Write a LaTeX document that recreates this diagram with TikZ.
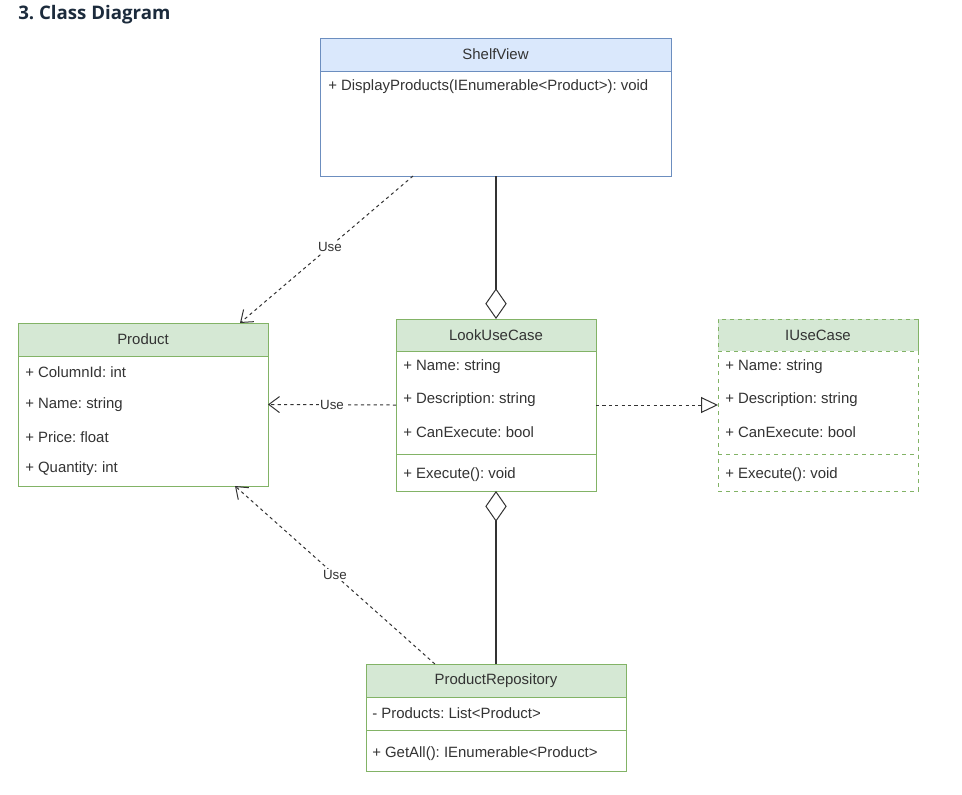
\documentclass[tikz,border=0pt]{standalone}
\usepackage{fontspec}
\setmainfont{Liberation Sans}
\newfontfamily\titlefont{Open Sans}
\usetikzlibrary{arrows.meta,calc}
\frenchspacing
\definecolor{gfill}{HTML}{D5E8D4}
\definecolor{gline}{HTML}{82B366}
\definecolor{bfill}{HTML}{DAE8FC}
\definecolor{bline}{HTML}{6C8EBF}
\definecolor{txt}{HTML}{333333}
\definecolor{ttl}{HTML}{1C2B3C}
\tikzset{
  box/.style={draw, line width=0.75pt, inner sep=0pt, outer sep=0pt, anchor=north west, fill=white},
  gbox/.style={box, draw=gline},
  bbox/.style={box, draw=bline},
  ghead/.style={gbox, fill=gfill, minimum height=24.75pt},
  bhead/.style={bbox, fill=bfill, minimum height=24.75pt},
  htext/.style={font=\fontsize{11.2}{13}\selectfont, text=txt, inner sep=0pt},
  row/.style={font=\fontsize{11.2}{13}\selectfont, text=txt, anchor=west, inner sep=0pt},
  dep/.style={draw=txt, line width=0.75pt, dash pattern=on 2.4pt off 2.4pt},
  usearrow/.style={dep, -{Straight Barb[length=8pt,width=12pt,line width=0.75pt]}},
  real/.style={dep, -{Triangle[open,length=12.75pt,width=12pt,line width=0.75pt,fill=white]}},
  agg/.style={draw=txt, line width=1.5pt, {Diamond[open,length=23pt,width=16pt,line width=0.75pt,fill=white]}-},
  lbl/.style={font=\fontsize{10}{12}\selectfont, text=txt, fill=white, inner sep=1pt}
}
\begin{document}
\begin{tikzpicture}[x=0.75pt,y=-0.75pt]
\useasboundingbox (0,0) rectangle (962,794);
% title
\node[anchor=west, inner sep=0pt, text=ttl, font=\titlefont\bfseries\fontsize{14}{17}\selectfont] (title) at (18,15) {3. Class Diagram};

% ShelfView
\node[bbox, minimum width=263.25pt, minimum height=103.5pt] (shelf) at (320,38) {};
\node[bhead, minimum width=263.25pt] (shelfh) at (320,38) {};
\node[htext] (shelft) at (shelfh.center) {ShelfView};
\node[row] (shelf1) at (328,87) {+ DisplayProducts(IEnumerable<Product>): void};

% Product
\node[gbox, minimum width=187.5pt, minimum height=122.25pt] (prod) at (18,323) {};
\node[ghead, minimum width=187.5pt] (prodh) at (18,323) {};
\node[htext] (prodt) at (prodh.center) {Product};
\node[row] (prod1) at (25,372) {+ ColumnId: int};
\node[row] (prod2) at (25,405) {+ Name: string};
\node[row] (prod3) at (25,437) {+ Price: float};
\node[row] (prod4) at (25,469) {+ Quantity: int};

% LookUseCase
\node[gbox, minimum width=150pt, minimum height=129pt] (look) at (396,319) {};
\node[ghead, minimum width=150pt, minimum height=24pt] (lookh) at (396,319) {};
\node[htext] (lookt) at (lookh.center) {LookUseCase};
\node[row] (look1) at (403,367) {+ Name: string};
\node[row] (look2) at (403,400) {+ Description: string};
\node[row] (look3) at (403,432) {+ CanExecute: bool};
\draw[gline, line width=0.75pt] (396,454) -- (596,454);
\node[row] (look4) at (403,475) {+ Execute(): void};

% IUseCase
\node[gbox, dashed, minimum width=150pt, minimum height=129pt] (iuse) at (718,319) {};
\node[ghead, dashed, minimum width=150pt, minimum height=24pt] (iuseh) at (718,319) {};
\node[htext] (iuset) at (iuseh.center) {IUseCase};
\node[row] (iuse1) at (725,367) {+ Name: string};
\node[row] (iuse2) at (725,400) {+ Description: string};
\node[row] (iuse3) at (725,432) {+ CanExecute: bool};
\draw[gline, dashed, line width=0.75pt] (718,454) -- (918,454);
\node[row] (iuse4) at (725,475) {+ Execute(): void};

% ProductRepository
\node[gbox, minimum width=195pt, minimum height=80.25pt] (repo) at (366,664) {};
\node[ghead, minimum width=195pt] (repoh) at (366,664) {};
\node[htext] (repot) at (repoh.center) {ProductRepository};
\node[row] (repo1) at (372,713) {- Products: List<Product>};
\draw[gline, line width=0.75pt] (366,730) -- (626,730);
\node[row] (repo2) at (372,754) {+ GetAll(): IEnumerable<Product>};

% connectors
\draw[agg] (look.north) -- (look.north |- shelf.south);
\draw[agg] (look.south) -- (look.south |- repo.north);
\draw[usearrow] ($(shelf.south west)!0.265!(shelf.south east)$) -- node[lbl, pos=0.48] {Use} ($(prod.north west)!0.888!(prod.north east)$);
\draw[usearrow] (look.west) -- node[lbl, pos=0.5] {Use} (prod.east);
\draw[usearrow] ($(repo.north west)!0.265!(repo.north east)$) -- node[lbl, pos=0.5] {Use} ($(prod.south west)!0.868!(prod.south east)$);
\draw[real] (look.east) -- (iuse.west);
\end{tikzpicture}
\end{document}
